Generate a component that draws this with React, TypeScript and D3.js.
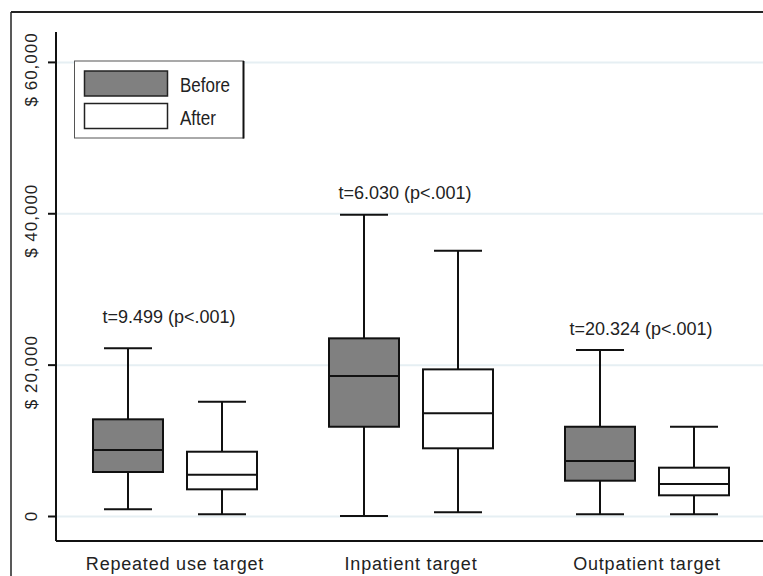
import React from 'react'
import * as d3 from 'd3'

const categories = ['Repeated use target', 'Inpatient target', 'Outpatient target']
const series = ['Before', 'After']

// [whiskerLow, q1, median, q3, whiskerHigh] per category, per series
const beforeStats = [
  [950, 5880, 8790, 12840, 22220],
  [60, 11860, 18560, 23540, 39870],
  [290, 4730, 7330, 11860, 21990]
]
const afterStats = [
  [290, 3590, 5520, 8560, 15170],
  [550, 9010, 13630, 19440, 35110],
  [290, 2800, 4290, 6450, 11860]
]

const tLabels = ['t=9.499 (p<.001)', 't=6.030 (p<.001)', 't=20.324 (p<.001)']
const tLabelValues = [25560, 41940, 23980]

const yTicks = [0, 20000, 40000, 60000]
const yTickLabels = ['0', '$ 20,000', '$ 40,000', '$ 60,000']

const W = 763
const H = 576
const FONT = '"Liberation Sans", Arial, sans-serif'

const App = () => {
  const axisX = 56
  const axisBottom = 541

  const x = d3.scaleBand().domain(categories).range([57, 765])
  const inner = d3.scalePoint().domain(series).range([-47, 47])
  const y = d3.scaleLinear().domain([0, 60000]).range([516.5, 62.4])
  const boxW = 70
  const capW = 48

  const fills = {Before: '#808080', After: '#ffffff'}
  // legend text widths as drawn in the original (narrow font)
  const legendW = {Before: 50, After: 36}

  const boxes = []
  categories.forEach((c, ci) => {
    series.forEach((s) => {
      const st = s === 'Before' ? beforeStats[ci] : afterStats[ci]
      const cx = x(c) + x.bandwidth() / 2 + inner(s)
      const [lo, q1, med, q3, hi] = st
      boxes.push(
        <g key={c + s} stroke="#111" strokeWidth={2}>
          <line x1={cx} x2={cx} y1={y(hi)} y2={y(q3)}/>
          <line x1={cx} x2={cx} y1={y(q1)} y2={y(lo)}/>
          <line x1={cx - capW / 2} x2={cx + capW / 2} y1={y(hi)} y2={y(hi)}/>
          <line x1={cx - capW / 2} x2={cx + capW / 2} y1={y(lo)} y2={y(lo)}/>
          <rect x={cx - boxW / 2} y={y(q3)} width={boxW} height={y(q1) - y(q3)} fill={fills[s]}/>
          <line x1={cx - boxW / 2} x2={cx + boxW / 2} y1={y(med)} y2={y(med)}/>
        </g>
      )
    })
  })

  return (
    <svg width={W} height={H} style={{position: 'absolute', left: 0, top: 0, display: 'block'}} fontFamily={FONT}>
      <rect x={0} y={0} width={W} height={H} fill="#fff"/>
      {/* outer frame */}
      <line x1={11} x2={W} y1={12} y2={12} stroke="#222" strokeWidth={2}/>
      <line x1={11} x2={11} y1={12} y2={H} stroke="#222" strokeWidth={1.5}/>

      {/* gridlines */}
      {yTicks.map((t) => (
        <line key={'g' + t} x1={axisX} x2={W} y1={y(t)} y2={y(t)} stroke="#e6eff3" strokeWidth={2}/>
      ))}

      {/* axes */}
      <line x1={axisX} x2={axisX} y1={32} y2={axisBottom} stroke="#111" strokeWidth={2}/>
      <line x1={axisX} x2={W} y1={axisBottom} y2={axisBottom} stroke="#111" strokeWidth={2}/>
      {yTicks.map((t, i) => (
        <g key={'t' + t}>
          <line x1={48} x2={axisX} y1={y(t)} y2={y(t)} stroke="#111" strokeWidth={2}/>
          <text transform={`translate(37,${y(t) + (t === 0 ? 0 : 7)}) rotate(-90)`} textAnchor="middle"
            fontSize={17} letterSpacing={t === 0 ? 0 : 1} fill="#222">{yTickLabels[i]}</text>
        </g>
      ))}

      {categories.map((c) => (
        <text key={c} x={x(c) + x.bandwidth() / 2} y={570} textAnchor="middle" fontSize={18}
          letterSpacing={0.8} fill="#222">{c}</text>
      ))}

      {tLabels.map((t, i) => (
        <text key={t} x={x(categories[i]) + x.bandwidth() / 2 - 6} y={y(tLabelValues[i])} textAnchor="middle"
          fontSize={18} fill="#222">{t}</text>
      ))}

      <g>{boxes}</g>

      {/* legend */}
      <g>
        <rect x={74.5} y={61} width={169} height={77} fill="#fff" stroke="#555" strokeWidth={1}/>
        <line x1={243.5} x2={243.5} y1={61} y2={138.5} stroke="#111" strokeWidth={2}/>
        {series.map((s, i) => (
          <g key={s}>
            <rect x={84.5} y={71 + i * 32.5} width={83} height={25} fill={fills[s]} stroke="#222" strokeWidth={1.5}/>
            <text x={180} y={92 + i * 32.5} fontSize={20} textLength={legendW[s]} lengthAdjust="spacingAndGlyphs"
              fill="#222">{s}</text>
          </g>
        ))}
      </g>
    </svg>
  )
}

export default App
